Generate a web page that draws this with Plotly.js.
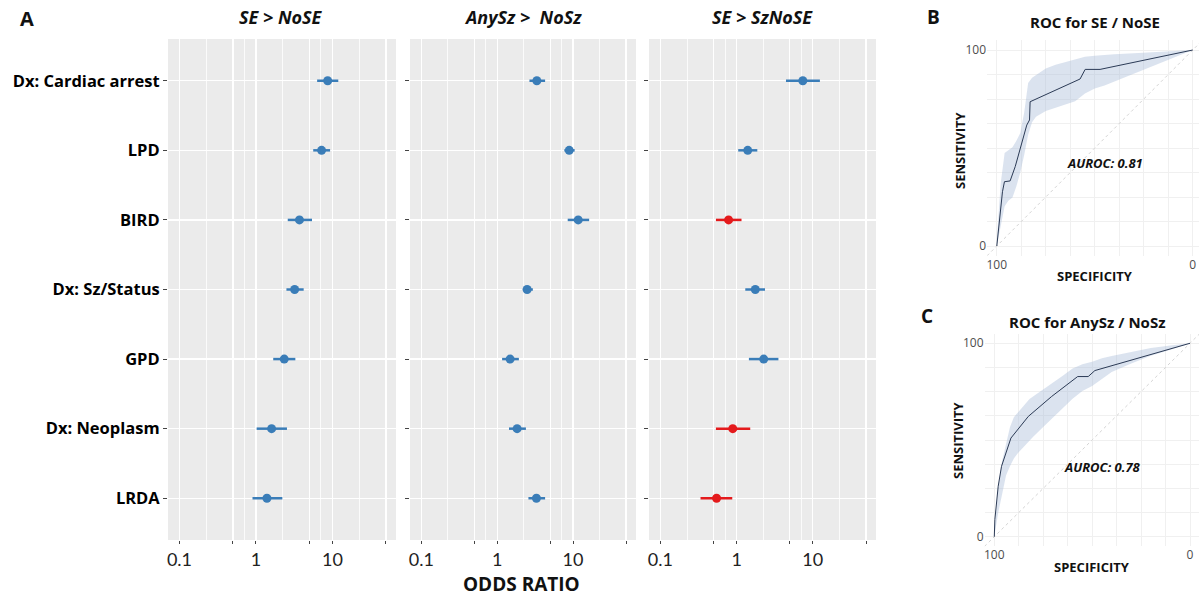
<!DOCTYPE html>
<html>
<head>
<meta charset="utf-8">
<script src="https://cdn.plot.ly/plotly-3.0.1.min.js"></script>
<style>html,body{margin:0;padding:0;background:#fff;}#chart{width:1199px;height:596px;}</style>
</head>
<body>
<div id="chart"></div>
<script>
// ---------- DATA ----------
const categories = ['Dx: Cardiac arrest', 'LPD', 'BIRD', 'Dx: Sz/Status', 'GPD', 'Dx: Neoplasm', 'LRDA'];
const panelTitles = ['SE &gt; NoSE', 'AnySz &gt;&nbsp; NoSz', 'SE &gt; SzNoSE'];

const or_se_nose = [8.65, 7.2, 3.7, 3.2, 2.34, 1.6, 1.39];
const lo_se_nose = [6.3, 5.6, 2.6, 2.5, 1.68, 1.02, 0.9];
const hi_se_nose = [11.9, 9.3, 5.4, 4.2, 3.27, 2.54, 2.21];
const sig_se_nose = [true, true, true, true, true, true, true];

const or_anysz_nosz = [3.33, 8.9, 11.7, 2.48, 1.48, 1.83, 3.29];
const lo_anysz_nosz = [2.66, 7.7, 8.5, 2.18, 1.16, 1.43, 2.58];
const hi_anysz_nosz = [4.28, 10.5, 16.3, 2.95, 1.93, 2.39, 4.28];
const sig_anysz_nosz = [true, true, true, true, true, true, true];

const or_se_sznose = [7.4, 1.4, 0.785, 1.76, 2.27, 0.89, 0.546];
const lo_se_sznose = [4.45, 1.05, 0.535, 1.3, 1.45, 0.535, 0.336];
const hi_se_sznose = [12.4, 1.87, 1.16, 2.36, 3.54, 1.51, 0.877];
const sig_se_sznose = [true, true, false, true, true, false, false];

const orTickVals = [0.1, 0.5, 1, 5, 10, 50];
const orTickText = ['0.1', '', '1', '', '10', ''];
const orMinorVals = [0.224, 0.707, 2.24, 7.07, 22.4];
const nullOR = 1;

// ROC B: SE / NoSE
const rocB_spec = [100, 97.1, 96.1, 93.2, 90.6, 84.7, 83.3, 83.0, 57.5, 54.9, 47.3, 0];
const rocB_sens = [0, 27.7, 32.8, 33.2, 40.5, 61.7, 64.3, 73.6, 85.2, 90.1, 90.1, 100];
const bandB_spec = [100, 98, 96, 94, 92, 90, 88, 86, 84, 82, 80, 75, 70, 65, 60, 55, 50, 45, 40, 30, 20, 10, 0];
const bandB_lower = [0, 10.1, 20.3, 23.2, 24.8, 30.5, 37.6, 46.6, 56.7, 63.1, 65.9, 68.9, 70.6, 72.3, 73.9, 77.8, 80.4, 81.9, 83.9, 87.9, 91.9, 96.0, 100];
const bandB_upper = [3, 32, 47.5, 48.9, 50.4, 53.7, 57.6, 68.2, 83.2, 85.9, 87.2, 90.6, 92.5, 93.8, 95.2, 96.6, 97.1, 97.5, 97.8, 98.3, 98.9, 99.4, 100];
const aurocB = '0.81';

// ROC C: AnySz / NoSz
const rocC_spec = [100, 99.7, 98, 96.3, 91.5, 82.6, 70.7, 57.4, 52, 48.6, 0];
const rocC_sens = [0, 8.9, 26.1, 36.4, 51, 62.2, 72.5, 82.8, 82.8, 85.9, 100];
const bandC_spec = [100, 98, 96, 94, 92, 90, 88, 86, 84, 82, 80, 75, 70, 65, 60, 55, 50, 45, 40, 30, 20, 10, 0];
const bandC_lower = [0, 12.4, 22.0, 31.6, 36.4, 40.4, 43.1, 45.3, 47.5, 49.7, 51.8, 56.7, 61.4, 66.2, 71.3, 75.3, 77.9, 81.5, 85.1, 89.6, 93.5, 96.7, 100];
const bandC_upper = [2, 24.9, 39.2, 48.1, 56.6, 61.8, 64.3, 66.7, 69.1, 71.2, 72.6, 76.0, 79.5, 83.2, 86.9, 89.2, 90.5, 92.3, 93.4, 95.5, 97.6, 98.8, 100];
const aurocC = '0.78';

const rocTickVals = [0, 12.5, 25, 37.5, 50, 62.5, 75, 87.5, 100];
const rocTickText = ['0', '', '', '', '', '', '', '', '100'];

// ---------- BUILD ----------
const W = 1199, H = 596;
const BLUE = '#3A7DB8', RED = '#E41A1C';
const FONT = '"Open Sans", Lato, sans-serif';
const FONT2 = 'Lato, "Open Sans", sans-serif';

const forestSets = [
  {or: or_se_nose, lo: lo_se_nose, hi: hi_se_nose, sig: sig_se_nose},
  {or: or_anysz_nosz, lo: lo_anysz_nosz, hi: hi_anysz_nosz, sig: sig_anysz_nosz},
  {or: or_se_sznose, lo: lo_se_sznose, hi: hi_se_sznose, sig: sig_se_sznose}
];
const xDomains = [[168 / W, 396 / W], [410 / W, 636 / W], [649 / W, 876 / W]];
const yDomainForest = [1 - 540 / H, 1 - 39 / H];
const orRange = [-1.15, 1.83];

const traces = [];
const layout = {
  width: W, height: H, autosize: false,
  margin: {l: 0, r: 0, t: 0, b: 0},
  paper_bgcolor: '#ffffff', plot_bgcolor: 'rgba(0,0,0,0)',
  showlegend: false,
  font: {family: FONT, color: '#111'},
  shapes: [], annotations: []
};

forestSets.forEach((s, i) => {
  const n = i + 1;
  const xa = n === 1 ? 'x' : 'x' + n;
  const ya = n === 1 ? 'y' : 'y' + n;
  [true, false].forEach(flag => {
    const idx = s.or.map((v, k) => k).filter(k => s.sig[k] === flag);
    if (!idx.length) return;
    const col = flag ? BLUE : RED;
    traces.push({
      type: 'scatter', mode: 'markers', xaxis: xa, yaxis: ya,
      x: idx.map(k => s.or[k]), y: idx.map(k => categories[k]),
      marker: {color: col, size: 9},
      error_x: {type: 'data', symmetric: false,
        array: idx.map(k => s.hi[k] - s.or[k]),
        arrayminus: idx.map(k => s.or[k] - s.lo[k]),
        color: col, thickness: 2.5, width: 0},
      hoverinfo: 'x+y', cliponaxis: false
    });
  });
  layout['xaxis' + (n === 1 ? '' : n)] = {
    domain: xDomains[i], anchor: ya, type: 'log', range: orRange,
    tickmode: 'array', tickvals: orTickVals, ticktext: orTickText,
    ticks: 'outside', ticklen: 3, tickwidth: 1, tickcolor: '#444',
    tickfont: {family: FONT2, size: 18, color: '#222'},
    showgrid: true, gridcolor: '#ffffff', gridwidth: 1.2,
    minor: {tickmode: 'array', tickvals: orMinorVals, showgrid: true, gridcolor: '#ffffff', gridwidth: 0.8, ticks: ''},
    zeroline: false, showline: false, fixedrange: true
  };
  layout['yaxis' + (n === 1 ? '' : n)] = {
    domain: yDomainForest, anchor: xa, type: 'category',
    categoryorder: 'array', categoryarray: categories.slice().reverse(),
    range: [-0.6, 6.6],
    ticks: 'outside', ticklen: 4, tickwidth: 1, tickcolor: '#444',
    showticklabels: n === 1,
    tickfont: {family: FONT, size: 16.5, weight: 'bold', color: '#000'},
    showgrid: true, gridcolor: '#ffffff', gridwidth: 1.2,
    zeroline: false, showline: false, fixedrange: true
  };
  layout.shapes.push({type: 'rect', xref: 'paper', yref: 'paper',
    x0: xDomains[i][0], x1: xDomains[i][1], y0: yDomainForest[0], y1: yDomainForest[1],
    fillcolor: '#EBEBEB', line: {width: 0}, layer: 'below'});
  layout.shapes.push({type: 'line', xref: xa, yref: 'paper',
    x0: Math.log10(nullOR), x1: Math.log10(nullOR), y0: yDomainForest[0], y1: yDomainForest[1],
    line: {color: '#ffffff', width: 2.8}, layer: 'below'});
});

// ROC panels
const rocSets = [
  {spec: rocB_spec, sens: rocB_sens, bs: bandB_spec, bl: bandB_lower, bu: bandB_upper,
   xdom: [987 / W, 1], xr: [105, -3.2], ydom: [1 - 255.8 / H, 1 - 40.2 / H]},
  {spec: rocC_spec, sens: rocC_sens, bs: bandC_spec, bl: bandC_lower, bu: bandC_upper,
   xdom: [984.5 / W, 1], xr: [105, -4.6], ydom: [1 - 546.4 / H, 1 - 333.6 / H]}
];
rocSets.forEach((r, i) => {
  const n = 4 + i;
  const xa = 'x' + n, ya = 'y' + n;
  traces.push({type: 'scatter', mode: 'lines', xaxis: xa, yaxis: ya, x: [105, -5], y: [-5, 105],
    line: {color: '#d4d4d4', width: 1, dash: 'dot'}, hoverinfo: 'skip'});
  traces.push({type: 'scatter', mode: 'lines', xaxis: xa, yaxis: ya, x: r.bs, y: r.bl,
    line: {width: 0, color: 'rgba(0,0,0,0)'}, hoverinfo: 'skip'});
  traces.push({type: 'scatter', mode: 'lines', xaxis: xa, yaxis: ya, x: r.bs, y: r.bu,
    line: {width: 0, color: 'rgba(0,0,0,0)'}, fill: 'tonexty', fillcolor: 'rgba(160,182,212,0.38)', hoverinfo: 'skip'});
  traces.push({type: 'scatter', mode: 'lines', xaxis: xa, yaxis: ya, x: r.spec, y: r.sens,
    line: {color: '#2b3a55', width: 1}, hoverinfo: 'x+y'});
  layout['xaxis' + n] = {
    domain: r.xdom, anchor: ya, range: r.xr,
    tickmode: 'array', tickvals: rocTickVals, ticktext: rocTickText,
    ticks: '', tickfont: {family: FONT, size: 12, color: '#4d4d4d'},
    showgrid: true, gridcolor: '#f0f0f0', gridwidth: 1,
    zeroline: false, showline: false, fixedrange: true
  };
  layout['yaxis' + n] = {
    domain: r.ydom, anchor: xa, range: [-5, 105],
    tickmode: 'array', tickvals: rocTickVals, ticktext: rocTickText,
    ticks: '', tickfont: {family: FONT, size: 12, color: '#4d4d4d'},
    showgrid: true, gridcolor: '#f0f0f0', gridwidth: 1,
    zeroline: false, showline: false, fixedrange: true
  };
});

function ann(text, px, py, size, weight, style, extra, fam) {
  return Object.assign({
    text: text, x: px / W, y: 1 - py / H, xref: 'paper', yref: 'paper',
    xanchor: 'center', yanchor: 'middle', showarrow: false,
    font: {family: fam || FONT, size: size, weight: weight || 'normal', style: style || 'normal', color: '#111'}
  }, extra || {});
}

layout.annotations.push(ann('A', 27, 18, 20, 'bold'));
layout.annotations.push(ann(panelTitles[0], 281, 17, 18, 'bold', 'italic'));
layout.annotations.push(ann(panelTitles[1], 523, 17, 18, 'bold', 'italic'));
layout.annotations.push(ann(panelTitles[2], 762, 17, 18, 'bold', 'italic'));
layout.annotations.push(ann('ODDS RATIO', 521, 584, 19, 'bold'));

layout.annotations.push(ann('B', 933, 17, 19, 'bold'));
layout.annotations.push(ann('ROC for SE / NoSE', 1095, 22, 15, 'bold'));
layout.annotations.push(ann('SENSITIVITY', 960, 150, 13, 'bold', 'normal', {textangle: -90}));
layout.annotations.push(ann('SPECIFICITY', 1095, 276, 13, 'bold'));
layout.annotations.push(ann('AUROC: ' + aurocB, 1105, 163, 13, 'bold', 'italic'));

layout.annotations.push(ann('C', 927, 316, 19, 'bold'));
layout.annotations.push(ann('ROC for AnySz / NoSz', 1087, 322, 15, 'bold'));
layout.annotations.push(ann('SENSITIVITY', 958, 440, 13, 'bold', 'normal', {textangle: -90}));
layout.annotations.push(ann('SPECIFICITY', 1092, 567, 13, 'bold'));
layout.annotations.push(ann('AUROC: ' + aurocC, 1102, 467, 13, 'bold', 'italic'));

Plotly.newPlot('chart', traces, layout, {displayModeBar: false, staticPlot: true});
</script>
</body>
</html>
